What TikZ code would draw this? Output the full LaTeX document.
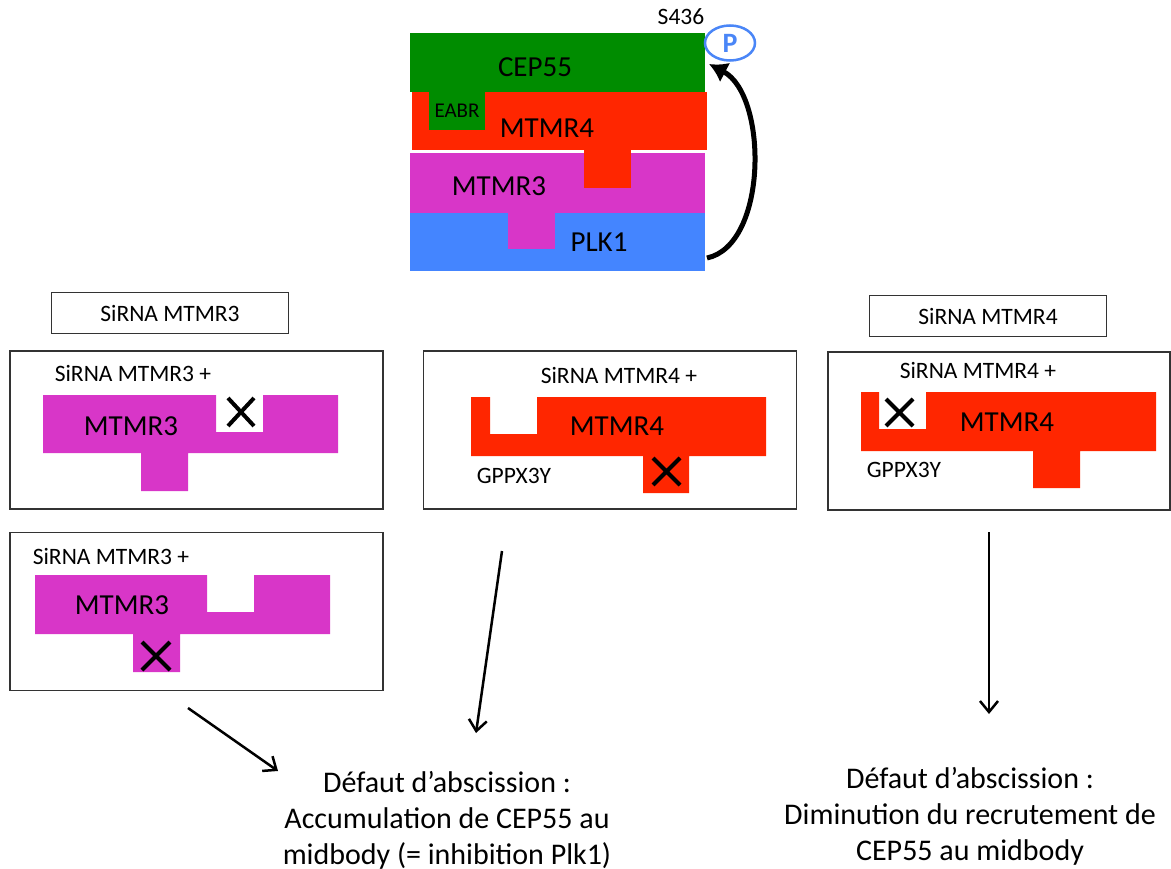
\documentclass[tikz,border=0pt]{standalone}
\usepackage{fontspec}
\setmainfont{Carlito}
\usetikzlibrary{arrows.meta,shapes.geometric}
\definecolor{cepgreen}{RGB}{0,140,0}
\definecolor{mtmfour}{RGB}{255,38,0}
\definecolor{mtmthree}{RGB}{216,54,200}
\definecolor{plkblue}{RGB}{68,133,255}
\definecolor{phosblue}{RGB}{74,134,247}

\tikzset{
  panel/.style={draw=black!80, line width=1.2pt, minimum width=373pt, minimum height=158pt, inner sep=0pt},
  tag/.style={draw=black!80, line width=1.2pt, minimum width=237pt, minimum height=41pt, font=\fontsize{23.5}{27}\selectfont},
  small/.style={font=\fontsize{23.5}{27}\selectfont},
  big/.style={font=\fontsize{29}{34}\selectfont},
  verdict/.style={align=center, font=\fontsize{30}{36}\selectfont},
  cross/.style={line width=4pt},
  arr/.style={line width=2.5pt, -{Straight Barb[length=11pt,width=18pt]}}
}

\begin{document}
\begin{tikzpicture}[x=1pt,y=-1pt]
\useasboundingbox (0,0) rectangle (1171,869);

% complexe CEP55 / MTMR4 / MTMR3 / PLK1
\fill[cepgreen] (410,33) rectangle (705,92);
\fill[mtmfour] (412,92) rectangle (707,150);
\fill[cepgreen] (429,92) rectangle (485,130);
\fill[mtmthree] (410,153) rectangle (705,213);
\fill[mtmfour] (584,150) rectangle (631,188);
\fill[plkblue] (410,213) rectangle (705,271);
\fill[mtmthree] (508,213) rectangle (555,249);
\node[big] (cep) at (535,67) {CEP55};
\node[font=\fontsize{21}{25}\selectfont] (eabr) at (457,111) {EABR};
\node[big] (mtm4) at (547,128) {MTMR4};
\node[big] (mtm3) at (499,186) {MTMR3};
\node[big] (plk) at (599,242) {PLK1};
\node[small] (site) at (681,17) {S436};
\node[ellipse, draw=phosblue, line width=2.5pt, minimum width=50pt, minimum height=35pt, inner sep=0pt,
      text=phosblue, font=\fontsize{28}{32}\selectfont\bfseries] (phos) at (730,43) {P};
\coordinate (loopstart) at (707,258);
\coordinate (loopend) at (709,64);
\draw[line width=5pt, -{Latex[length=18pt,width=22pt]}] (loopstart) .. controls (768,245) and (768,95) .. (loopend);

% siRNA MTMR3
\node[tag] (tag3) at (170,313) {SiRNA MTMR3};
\node[panel] (box1) at (196.5,430) {};
\node[small] at (133,373) {SiRNA MTMR3 +};
\fill[mtmthree] (43,395) -- (216,395) -- (216,432) -- (263,432) -- (263,395) -- (338,395) -- (338,453)
  -- (188,453) -- (188,491) -- (141,491) -- (141,453) -- (43,453) -- cycle;
\node[big] (m3a) at (131,426) {MTMR3};
\draw[cross] (228,398) -- (254,426) (254,398) -- (228,426);

\node[panel] (box4) at (196.5,611.5) {};
\node[small] at (111,556) {SiRNA MTMR3 +};
\fill[mtmthree] (35,575) -- (207,575) -- (207,612) -- (254,612) -- (254,575) -- (330,575) -- (330,634)
  -- (180,634) -- (180,672) -- (133,672) -- (133,634) -- (35,634) -- cycle;
\node[big] (m3b) at (122,605) {MTMR3};
\draw[cross] (142,642) -- (170,670) (170,642) -- (142,670);

% siRNA MTMR4
\node[panel] (box2) at (610,430) {};
\node[small] at (619,375) {SiRNA MTMR4 +};
\fill[mtmfour] (471,397) -- (490,397) -- (490,434) -- (537,434) -- (537,397) -- (766,397) -- (766,456)
  -- (689,456) -- (689,493) -- (643,493) -- (643,456) -- (471,456) -- cycle;
\node[big] (m4a) at (617,426) {MTMR4};
\node[small] at (514,476) {GPPX3Y};
\draw[cross] (653,458) -- (680,485) (680,458) -- (653,485);

\node[tag] (tag4) at (988,316) {SiRNA MTMR4};
\node[panel, minimum width=342pt] (box3) at (999,431) {};
\node[small] at (978,370) {SiRNA MTMR4 +};
\fill[mtmfour] (861,392) -- (879,392) -- (879,429) -- (926,429) -- (926,392) -- (1156,392) -- (1156,451)
  -- (1080,451) -- (1080,488) -- (1033,488) -- (1033,451) -- (861,451) -- cycle;
\node[big] (m4b) at (1007,422) {MTMR4};
\node[small] at (904,470) {GPPX3Y};
\draw[cross] (886,399) -- (913,426) (913,399) -- (886,426);

% conclusions
\node[verdict] (accu) at (447,820) {Défaut d’abscission :\\Accumulation de CEP55 au\\midbody (= inhibition Plk1)};
\node[verdict] (dimi) at (970,816) {Défaut d’abscission :\\Diminution du recrutement de\\CEP55 au midbody};
\coordinate (a1) at (188,708);
\coordinate (a1e) at (278,771);
\coordinate (a2) at (502,551);
\coordinate (a2e) at (476,733);
\coordinate (a3) at (989,532);
\coordinate (a3e) at (989,714);
\draw[arr] (a1) -- (a1e);
\draw[arr] (a2) -- (a2e);
\draw[arr] (a3) -- (a3e);
\end{tikzpicture}
\end{document}
